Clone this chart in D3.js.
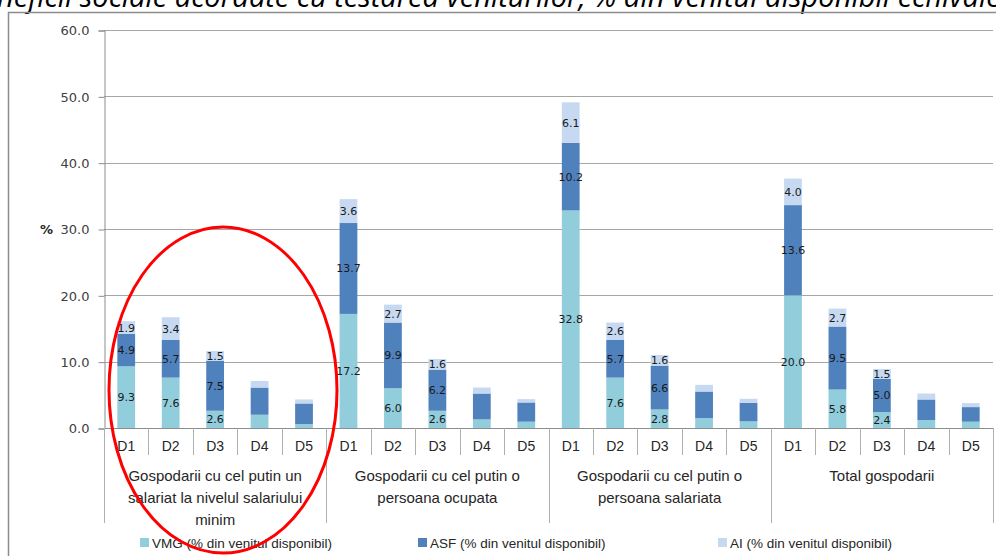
<!DOCTYPE html>
<html>
<head>
<meta charset="utf-8">
<script src="https://cdn.jsdelivr.net/npm/d3@7"></script>
<style>
  html, body { margin: 0; padding: 0; background: #fff; overflow: hidden; }
  svg { display: block; }
</style>
</head>
<body>
<svg id="chart" width="996" height="556"></svg>
<script>
// data
const groups = [
  ["Gospodarii cu cel putin un", "salariat la nivelul salariului", "minim"],
  ["Gospodarii cu cel putin o", "persoana ocupata"],
  ["Gospodarii cu cel putin o", "persoana salariata"],
  ["Total gospodarii"]
];
const deciles = ["D1", "D2", "D3", "D4", "D5"];
const seriesNames = ["VMG (% din venitul disponibil)", "ASF (% din venitul disponibil)", "AI (% din venitul disponibil)"];
const vmg = [9.3, 7.6, 2.6, 2.0, 0.6,  17.2, 6.0, 2.6, 1.3, 0.95,  32.8, 7.6, 2.8, 1.5, 1.0,  20.0, 5.8, 2.4, 1.2, 0.95];
const asf = [4.9, 5.7, 7.5, 4.1, 3.1,  13.7, 9.9, 6.2, 3.9, 2.9,   10.2, 5.7, 6.6, 4.0, 2.8,  13.6, 9.5, 5.0, 3.1, 2.2];
const ai  = [1.9, 3.4, 1.5, 1.0, 0.6,  3.6, 2.7, 1.6, 0.9, 0.5,    6.1, 2.6, 1.6, 1.0, 0.6,   4.0, 2.7, 1.5, 0.9, 0.6];
const yTicks = [0, 10, 20, 30, 40, 50, 60];
const colors = ["#92cddc", "#4f81bd", "#c6d9f1"];

const svg = d3.select("#chart");

// title, cut at the top of the image
const title = svg.append("text")
  .attr("y", 7)
  .style("font-family", "'Open Sans', sans-serif")
  .style("font-style", "italic")
  .style("font-size", "29px")
  .attr("fill", "#000");
title.append("tspan").attr("class", "pre").text("Be");
title.append("tspan").text("neficii sociale acordate cu testarea veniturilor, % din venitul disponibil echivalent");
const preW = title.select(".pre").node().getComputedTextLength();
title.attr("x", -preW - 3);

// chart frame
svg.append("rect")
  .attr("x", 8.5).attr("y", 12.5)
  .attr("width", 1000).attr("height", 600)
  .attr("fill", "none").attr("stroke", "#8c8c8c").attr("stroke-width", 1.5);

const plotL = 104, plotR = 993, plotT = 30, plotB = 428;

const keys = d3.range(20);
const x = d3.scaleBand().domain(keys).range([plotL, plotR]).paddingInner(0.6).paddingOuter(0.3);
const y = d3.scaleLinear().domain([0, 60]).range([plotB, plotT]);

// gridlines
svg.append("g").selectAll("line")
  .data(yTicks.filter(d => d > 0))
  .join("line")
  .attr("x1", plotL).attr("x2", plotR)
  .attr("y1", d => Math.round(y(d)) + 0.5).attr("y2", d => Math.round(y(d)) + 0.5)
  .attr("stroke", "#a6a6a6");

// y axis
const yAxis = svg.append("g")
  .attr("transform", `translate(${plotL + 0.5},0.5)`)
  .call(d3.axisLeft(y).tickValues(yTicks).tickFormat(d3.format(".1f")).tickSize(6).tickPadding(9));
yAxis.select(".domain").attr("stroke", "#8c8c8c");
yAxis.selectAll(".tick line").attr("stroke", "#8c8c8c");
yAxis.selectAll(".tick text")
  .style("font-family", "'DejaVu Sans', sans-serif")
  .style("font-size", "13px")
  .attr("fill", "#404040");

svg.append("text")
  .attr("x", 40).attr("y", 234)
  .style("font-family", "'DejaVu Sans', sans-serif")
  .style("font-size", "13px")
  .style("font-weight", "bold")
  .attr("fill", "#262626")
  .text("%");

// stacked bars
const rows = keys.map(i => ({ i, vmg: vmg[i], asf: asf[i], ai: ai[i] }));
const stack = d3.stack().keys(["vmg", "asf", "ai"])(rows);

const layers = svg.append("g").selectAll("g")
  .data(stack)
  .join("g")
  .attr("fill", (d, k) => colors[k]);

layers.selectAll("rect")
  .data(d => d)
  .join("rect")
  .attr("x", d => x(d.data.i))
  .attr("width", x.bandwidth())
  .attr("y", d => y(d[1]))
  .attr("height", d => y(d[0]) - y(d[1]));

// value labels, only for D1-D3
layers.selectAll("text")
  .data(d => d.filter(p => p.data.i % 5 < 3))
  .join("text")
  .attr("x", d => x(d.data.i) + x.bandwidth() / 2)
  .attr("y", d => (y(d[0]) + y(d[1])) / 2 + 4)
  .attr("text-anchor", "middle")
  .style("font-family", "'DejaVu Sans', sans-serif")
  .style("font-size", "11px")
  .attr("fill", "#1a1a1a")
  .text(d => d3.format(".1f")(d[1] - d[0]));

// category axis
const step = x.step();
svg.append("line")
  .attr("x1", plotL).attr("x2", plotR)
  .attr("y1", plotB + 0.5).attr("y2", plotB + 0.5)
  .attr("stroke", "#8c8c8c");

svg.append("g").selectAll("line")
  .data(d3.range(21))
  .join("line")
  .attr("x1", i => Math.round(plotL + i * step) + 0.5)
  .attr("x2", i => Math.round(plotL + i * step) + 0.5)
  .attr("y1", plotB)
  .attr("y2", i => i % 5 === 0 ? 523 : 455)
  .attr("stroke", "#b0b0b0");

svg.append("g").selectAll("text")
  .data(keys)
  .join("text")
  .attr("x", i => x(i) + x.bandwidth() / 2)
  .attr("y", 451)
  .attr("text-anchor", "middle")
  .style("font-family", "'Liberation Sans', sans-serif")
  .style("font-size", "14px")
  .attr("fill", "#262626")
  .text(i => deciles[i % 5]);

const groupText = svg.append("g").selectAll("text")
  .data(groups)
  .join("text")
  .attr("x", (d, g) => plotL + (g * 5 + 2.5) * step)
  .attr("y", 481)
  .attr("text-anchor", "middle")
  .style("font-family", "'Liberation Sans', sans-serif")
  .style("font-size", "15px")
  .attr("fill", "#262626");
groupText.selectAll("tspan")
  .data(d => d)
  .join("tspan")
  .attr("x", function () { return this.parentNode.getAttribute("x"); })
  .attr("dy", (d, k) => k === 0 ? 0 : 22)
  .text(d => d);

// legend
const legendX = [140, 418, 718];
const legend = svg.append("g").selectAll("g")
  .data(seriesNames)
  .join("g")
  .attr("transform", (d, k) => `translate(${legendX[k]},543)`);
legend.append("rect")
  .attr("x", 0).attr("y", -5)
  .attr("width", 9).attr("height", 9)
  .attr("fill", (d, k) => colors[k]);
legend.append("text")
  .attr("x", 12).attr("y", 5)
  .style("font-family", "'Liberation Sans', sans-serif")
  .style("font-size", "13.5px")
  .attr("fill", "#262626")
  .text(d => d);

// red ellipse around the first group
svg.append("ellipse")
  .attr("cx", 223).attr("cy", 390)
  .attr("rx", 114).attr("ry", 163)
  .attr("fill", "none")
  .attr("stroke", "#ff0000")
  .attr("stroke-width", 3);
</script>
</body>
</html>
